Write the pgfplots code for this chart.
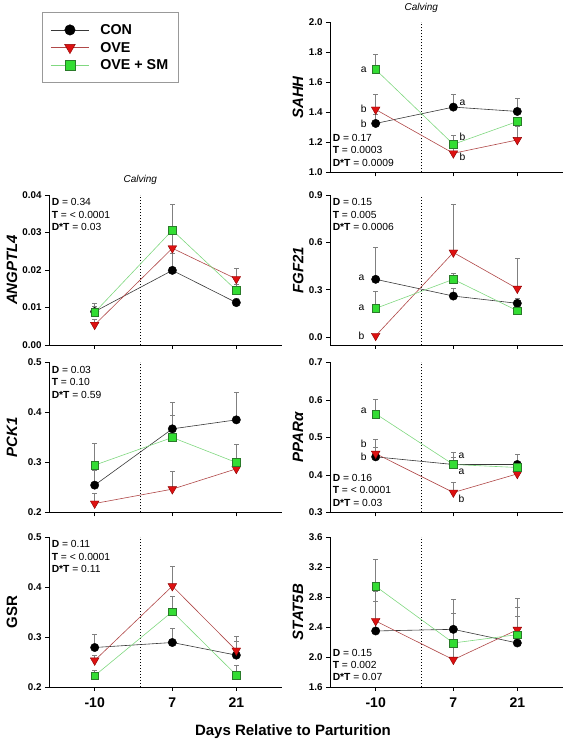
\documentclass[border=0pt]{standalone}
\usepackage{fontspec}
\setmainfont{Liberation Sans}
\usepackage{pgfplots}
\pgfplotsset{compat=1.18}
\usepackage{pgfplotstable}

\definecolor{conline}{HTML}{383838}
\definecolor{oveline}{HTML}{B04848}
\definecolor{smline}{HTML}{80D880}
\definecolor{ovefill}{HTML}{DD1111}
\definecolor{ovedraw}{HTML}{8B0000}
\definecolor{smfill}{HTML}{33DD33}
\definecolor{smdraw}{HTML}{2A7A2A}
\definecolor{errgray}{HTML}{808080}

\pgfplotstableread{
x   con   econ  ove   eove  sm    esm
-10 1.327 0.060 1.420 0.100 1.686 0.099
7   1.436 0.086 1.128 0.050 1.188 0.062
21  1.407 0.084 1.217 0.088 1.340 0.030
}\sahh
\pgfplotstableread{
x   con    econ   ove    eove   sm     esm
-10 0.0089 0.0015 0.0054 0.0015 0.0087 0.0023
7   0.0199 0.0045 0.0258 0.0050 0.0306 0.0068
21  0.0113 0.0010 0.0176 0.0029 0.0146 0.0015
}\angptl
\pgfplotstableread{
x   con   econ  ove    eove  sm    esm
-10 0.366 0.199 0.0085 0.010 0.182 0.108
7   0.260 0.050 0.536  0.305 0.366 0.036
21  0.214 0.030 0.307  0.193 0.167 0.020
}\fgf
\pgfplotstableread{
x   con    econ   ove    eove  sm     esm
-10 0.2547 0.0300 0.2180 0.020 0.2947 0.0426
7   0.3673 0.0534 0.2467 0.036 0.3500 0.0447
21  0.3853 0.0547 0.2873 0.020 0.3000 0.0353
}\pck
\pgfplotstableread{
x   con    econ  ove    eove  sm     esm
-10 0.4484 0.025 0.4570 0.037 0.5631 0.039
7   0.4280 0.020 0.3533 0.027 0.4280 0.031
21  0.4280 0.028 0.4030 0.020 0.4200 0.035
}\ppar
\pgfplotstableread{
x   con    econ   ove    eove  sm     esm
-10 0.2790 0.0265 0.2531 0.010 0.2226 0.010
7   0.2890 0.0280 0.4018 0.040 0.3507 0.031
21  0.2637 0.0280 0.2730 0.028 0.2239 0.019
}\gsr
\pgfplotstableread{
x   con   econ  ove   eove  sm    esm
-10 2.347 0.400 2.480 0.391 2.942 0.365
7   2.369 0.395 1.964 0.200 2.187 0.391
21  2.187 0.600 2.364 0.303 2.298 0.249
}\stat

\pgfplotsset{
  panel/.style={
    scale only axis, width=233pt, height=150pt,
    xmin=-20, xmax=31,
    axis lines*=left,
    tick align=outside,
    major tick length=4pt,
    xtick={-10,7,21},
    xticklabels={},
    scaled y ticks=false,
    every tick/.style={black, line width=0.5pt},
    axis line style={black, line width=0.6pt},
    tick label style={font=\fontsize{9.8}{11}\selectfont\bfseries},
    /pgf/number format/assume math mode=true,
    clip=false,
    ylabel style={font=\fontsize{15}{17}\selectfont\bfseries\itshape, anchor=center},
  },
  leftcol/.style={ylabel style={at={(axis description cs:-0.159,0.5)}}},
  rightcol/.style={ylabel style={at={(axis description cs:-0.137,0.5)}}},
  bottomrow/.style={xticklabels={-10,7,21},
    xticklabel style={font=\fontsize{14}{16}\selectfont\bfseries, yshift=-3pt}},
  con/.style={color=conline, line width=0.6pt, mark=*, mark size=4.2pt,
    mark options={fill=black, draw=black, line width=0.4pt}},
  ove/.style={color=oveline, line width=0.6pt, mark=triangle*, mark size=5pt,
    mark options={rotate=180, fill=ovefill, draw=ovedraw, line width=0.4pt}},
  sm/.style={color=smline, line width=0.6pt, mark=square*, mark size=3.9pt,
    mark options={fill=smfill, draw=smdraw, line width=0.4pt}},
  err/.style={forget plot, draw=none, mark=none,
    error bars/.cd, y dir=plus, y explicit,
    error bar style={draw=errgray, line width=0.8pt},
    error mark options={rotate=90, draw=errgray, line width=0.8pt, mark size=2.2pt}},
}

\newcommand\allseries[1]{%
  \addplot[err] table[x=x,y=con,y error=econ]{#1};
  \addplot[err] table[x=x,y=ove,y error=eove]{#1};
  \addplot[err] table[x=x,y=sm,y error=esm]{#1};
  \addplot[con] table[x=x,y=con]{#1};
  \addplot[ove] table[x=x,y=ove]{#1};
  \addplot[sm] table[x=x,y=sm]{#1};
}
\newcommand\calv[2]{%
  \draw[black, line width=1.4pt, dash pattern=on 1.3pt off 1.7pt]
    (axis cs:0,#1) -- (axis cs:0,#2);}
\newcommand\stats[5]{%
  \node[anchor=#1, align=left, inner sep=0pt, font=\fontsize{10.3}{12.4}\selectfont]
    at (axis description cs:0.011,#2)
    {\textbf{D} = #3\\\textbf{T} = #4\\\textbf{D*T} = #5};}
\newcommand\lett[3]{\node[font=\fontsize{10.3}{12}\selectfont] at (axis cs:#1,#2) {#3};}

\begin{document}
\begin{tikzpicture}
\useasboundingbox (0,0) rectangle (567pt,742pt);

% ---------- SAHH (top right) ----------
\begin{axis}[panel, rightcol, at={(330pt,569.5pt)}, anchor=south west,
  ymin=1.0, ymax=2.0, ytick={1.0,1.2,1.4,1.6,1.8,2.0},
  yticklabels={1.0,1.2,1.4,1.6,1.8,2.0}, ylabel={SAHH},
  legend style={at={(-1.235,1.068)}, anchor=north west, draw=gray!80,
    line width=0.8pt, fill=white, font=\fontsize{14.3}{16}\selectfont\bfseries,
    inner xsep=8pt, inner ysep=10pt, row sep=3pt,
    nodes={inner sep=2pt, text height=10pt, text depth=0.5pt},
    /tikz/every odd column/.append style={column sep=9pt}},
  legend cell align=left,
  legend image code/.code={\draw[mark repeat=2, mark phase=2, #1,
      every mark/.append style={scale=1.25}]
      plot coordinates {(0pt,0pt) (19pt,0pt) (38pt,0pt)};},
  legend entries={CON,OVE,OVE + SM}]
\calv{1.0}{2.0}
\allseries{\sahh}
\node[font=\fontsize{10}{12}\selectfont\itshape] at (axis cs:0,2.0) [yshift=14.7pt] {Calving};
\stats{south west}{0.039}{0.17}{0.0003}{0.0009}
\lett{-12.6}{1.686}{a}
\lett{-12.6}{1.427}{b}
\lett{-12.6}{1.323}{b}
\lett{9.0}{1.465}{a}
\lett{9.0}{1.239}{b}
\lett{9.0}{1.102}{b}
\end{axis}

% ---------- ANGPTL4 ----------
\begin{axis}[panel, leftcol, at={(49pt,397pt)}, anchor=south west,
  ymin=0, ymax=0.04, ytick={0,0.01,0.02,0.03,0.04},
  yticklabels={0.00,0.01,0.02,0.03,0.04}, ylabel={ANGPTL4}]
\calv{0}{0.04}
\allseries{\angptl}
\node[font=\fontsize{10}{12}\selectfont\itshape] at (axis cs:0,0.04) [yshift=15.3pt] {Calving};
\stats{north west}{0.977}{0.34}{< 0.0001}{0.03}
\end{axis}

% ---------- FGF21 ----------
\begin{axis}[panel, rightcol, at={(330pt,397pt)}, anchor=south west,
  ymin=-0.05, ymax=0.9, ytick={0,0.3,0.6,0.9},
  yticklabels={0.0,0.3,0.6,0.9}, ylabel={FGF21}]
\calv{-0.05}{0.9}
\allseries{\fgf}
\stats{north west}{0.977}{0.15}{0.005}{0.0006}
\lett{-13.1}{0.377}{a}
\lett{-13.1}{0.186}{a}
\lett{-13.1}{0.006}{b}
\end{axis}

% ---------- PCK1 ----------
\begin{axis}[panel, leftcol, at={(49pt,229.5pt)}, anchor=south west,
  ymin=0.2, ymax=0.5, ytick={0.2,0.3,0.4,0.5},
  yticklabels={0.2,0.3,0.4,0.5}, ylabel={PCK1}]
\calv{0.2}{0.5}
\allseries{\pck}
\stats{north west}{0.977}{0.03}{0.10}{0.59}
\end{axis}

% ---------- PPARalpha ----------
\begin{axis}[panel, rightcol, at={(330pt,229.5pt)}, anchor=south west,
  ymin=0.3, ymax=0.7, ytick={0.3,0.4,0.5,0.6,0.7},
  yticklabels={0.3,0.4,0.5,0.6,0.7}, ylabel={PPARα}]
\calv{0.3}{0.7}
\allseries{\ppar}
\stats{south west}{0.039}{0.16}{< 0.0001}{0.03}
\lett{-12.6}{0.572}{a}
\lett{-12.6}{0.483}{b}
\lett{-12.6}{0.4476}{b}
\lett{8.8}{0.452}{a}
\lett{8.8}{0.409}{a}
\lett{8.8}{0.3356}{b}
\end{axis}

% ---------- GSR ----------
\begin{axis}[panel, leftcol, bottomrow, at={(49pt,55pt)}, anchor=south west,
  ymin=0.2, ymax=0.5, ytick={0.2,0.3,0.4,0.5},
  yticklabels={0.2,0.3,0.4,0.5}, ylabel={\upshape GSR},
  xlabel={Days Relative to Parturition},
  xlabel style={font=\fontsize{15}{17}\selectfont\bfseries,
    at={(axis description cs:1.047,0)}, anchor=center, yshift=-44.4pt}]
\calv{0.2}{0.5}
\allseries{\gsr}
\stats{north west}{0.977}{0.11}{< 0.0001}{0.11}
\end{axis}

% ---------- STAT5B ----------
\begin{axis}[panel, rightcol, bottomrow, at={(330pt,55pt)}, anchor=south west,
  ymin=1.6, ymax=3.6, ytick={1.6,2.0,2.4,2.8,3.2,3.6},
  yticklabels={1.6,2.0,2.4,2.8,3.2,3.6}, ylabel={STAT5B}]
\calv{1.6}{3.6}
\allseries{\stat}
\stats{south west}{0.039}{0.15}{0.002}{0.07}
\end{axis}
\end{tikzpicture}
\end{document}
